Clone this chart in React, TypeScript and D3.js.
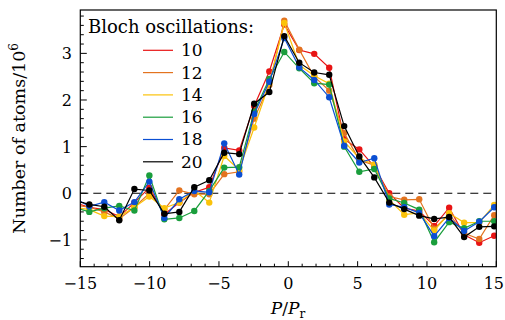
import React, { useEffect, useRef } from "react";
import * as d3 from "d3";

// momentum positions P/Pr (first one lies just outside the axis and gets clipped)
const positions = [
  -15.43, -14.35, -13.27, -12.19, -11.1, -10.02, -8.94, -7.86, -6.78, -5.7,
  -4.62, -3.54, -2.46, -1.37, -0.29, 0.79, 1.87, 2.95, 4.03, 5.12, 6.2, 7.28,
  8.36, 9.44, 10.52, 11.6, 12.68, 13.77, 14.85,
];

const bloch10 = [
  -0.2, -0.3, -0.35, -0.5, -0.2, 0.12, -0.45, -0.2, 0.02, 0.13, 0.97, 0.92,
  1.87, 2.61, 3.62, 3.07, 2.99, 2.69, 1.16, 0.94, 0.57, 0.0, -0.32, -0.38,
  -0.7, -0.31, -0.89, -1.06, -0.91,
];
const bloch12 = [
  -0.25, -0.3, -0.4, -0.55, -0.3, 0.0, -0.35, 0.06, -0.02, -0.02, 0.41, 0.46,
  1.6, 2.32, 3.7, 3.08, 2.5, 2.2, 1.29, 0.71, 0.6, -0.07, -0.14, -0.13, -0.76,
  -0.45, -0.86, -0.98, -0.47,
];
const bloch14 = [
  -0.3, -0.35, -0.49, -0.5, -0.3, -0.07, -0.32, -0.2, 0.06, -0.2, 0.8, 0.5,
  1.41, 2.36, 3.65, 2.75, 2.52, 2.35, 1.11, 0.75, 0.62, -0.14, -0.46, -0.42,
  -0.8, -0.43, -0.63, -0.63, -0.25,
];
const bloch16 = [
  -0.3, -0.4, -0.32, -0.27, -0.37, 0.38, -0.56, -0.53, -0.38, 0.05, 0.55,
  0.56, 1.75, 2.45, 3.03, 2.68, 2.36, 2.33, 1.0, 0.46, 0.52, -0.11, -0.21,
  -0.35, -1.05, -0.62, -0.75, -0.6, -0.6,
];
const bloch18 = [
  -0.1, -0.28, -0.19, -0.37, -0.19, 0.25, -0.53, -0.13, 0.05, 0.02, 1.07, 0.4,
  1.7, 2.39, 3.33, 2.7, 2.43, 2.06, 1.02, 0.66, 0.75, -0.24, -0.3, -0.42,
  -0.92, -0.53, -0.81, -0.61, -0.3,
];
const bloch20 = [
  -0.15, -0.24, -0.29, -0.58, 0.09, 0.06, -0.44, -0.4, 0.13, 0.28, 0.87, 0.84,
  1.92, 2.17, 3.37, 2.8, 2.59, 2.54, 1.44, 0.79, 0.34, -0.2, -0.34, -0.48,
  -0.55, -0.51, -0.94, -0.72, -0.71,
];

const seriesLabels = ["10", "12", "14", "16", "18", "20"];
const seriesValues = [bloch10, bloch12, bloch14, bloch16, bloch18, bloch20];
const seriesColors = ["#e81414", "#e3731f", "#fbc20a", "#1a9e3c", "#0b4fd3", "#000000"];

const xTicks = [-15, -10, -5, 0, 5, 10, 15];
const yTicks = [-1, 0, 1, 2, 3];

const FONT = "'DejaVu Serif', serif";

const App = () => {
  const ref = useRef<SVGSVGElement>(null);

  useEffect(() => {
    const svg = d3.select(ref.current);
    svg.selectAll("*").remove();

    const left = 80.3;
    const right = 496.3;
    const top = 10;
    const bottom = 266.7;

    const x = d3.scaleLinear().domain([-15, 15]).range([left, right]);
    const y = d3.scaleLinear().domain([-1.575, 3.93]).range([bottom, top]);

    svg
      .append("clipPath")
      .attr("id", "plot-clip")
      .append("rect")
      .attr("x", left)
      .attr("y", top)
      .attr("width", right - left)
      .attr("height", bottom - top);

    // zero line
    svg
      .append("line")
      .attr("x1", left)
      .attr("x2", right)
      .attr("y1", y(0))
      .attr("y2", y(0))
      .attr("stroke", "#000")
      .attr("stroke-width", 1.2)
      .attr("stroke-dasharray", "8,5");

    const plot = svg.append("g").attr("clip-path", "url(#plot-clip)");
    const line = d3
      .line<number>()
      .x((d, i) => x(positions[i]))
      .y((d) => y(d));

    seriesValues.forEach((vals, s) => {
      plot
        .append("path")
        .attr("d", line(vals))
        .attr("fill", "none")
        .attr("stroke", seriesColors[s])
        .attr("stroke-width", 1.2);
      plot
        .selectAll(null)
        .data(vals)
        .enter()
        .append("circle")
        .attr("cx", (d, i) => x(positions[i]))
        .attr("cy", (d) => y(d))
        .attr("r", 3.2)
        .attr("fill", seriesColors[s]);
    });

    // frame
    svg
      .append("rect")
      .attr("x", left)
      .attr("y", top)
      .attr("width", right - left)
      .attr("height", bottom - top)
      .attr("fill", "none")
      .attr("stroke", "#000")
      .attr("stroke-width", 1.2);

    // x ticks (inward)
    const xMinor = d3.range(-15, 16, 1);
    svg
      .selectAll("line.xminor")
      .data(xMinor)
      .enter()
      .append("line")
      .attr("x1", (d) => x(d))
      .attr("x2", (d) => x(d))
      .attr("y1", bottom)
      .attr("y2", (d) => (xTicks.includes(d) ? bottom - 5.5 : bottom - 3))
      .attr("stroke", "#000")
      .attr("stroke-width", 1);

    // last label would run past the edge, so it is right-aligned
    svg
      .selectAll("text.xlab")
      .data(xTicks)
      .enter()
      .append("text")
      .attr("x", (d, i) => (i === xTicks.length - 1 ? 504 : x(d)))
      .attr("y", 289)
      .attr("text-anchor", (d, i) => (i === xTicks.length - 1 ? "end" : "middle"))
      .style("font-family", FONT)
      .style("font-size", "16px")
      .text((d) => d3.format("d")(d));

    // y ticks
    const yMinor = d3.range(-14, 39, 2).map((d) => d / 10);
    svg
      .selectAll("line.yminor")
      .data(yMinor)
      .enter()
      .append("line")
      .attr("x1", left)
      .attr("x2", (d) => (Number.isInteger(d) ? left + 6.5 : left + 3.5))
      .attr("y1", (d) => y(d))
      .attr("y2", (d) => y(d))
      .attr("stroke", "#000")
      .attr("stroke-width", 1);

    svg
      .selectAll("text.ylab")
      .data(yTicks)
      .enter()
      .append("text")
      .attr("x", 72)
      .attr("y", (d) => y(d) + 6)
      .attr("text-anchor", "end")
      .style("font-family", FONT)
      .style("font-size", "16px")
      .text((d) => d3.format("d")(d));

    // axis titles
    const xt = svg
      .append("text")
      .attr("x", 288)
      .attr("y", 314)
      .attr("text-anchor", "middle")
      .style("font-family", FONT)
      .style("font-size", "17px");
    xt.append("tspan").style("font-style", "italic").text("P");
    xt.append("tspan").text("/");
    xt.append("tspan").style("font-style", "italic").text("P");
    xt.append("tspan").attr("dy", 4).style("font-size", "12px").text("r");

    const yt = svg
      .append("text")
      .attr("transform", "translate(25," + (top + bottom) / 2 + ") rotate(-90)")
      .attr("text-anchor", "middle")
      .style("font-family", FONT)
      .style("font-size", "17.5px");
    yt.append("tspan").text("Number of atoms/10");
    yt.append("tspan").attr("dy", -7).style("font-size", "12px").text("6");

    // legend
    svg
      .append("text")
      .attr("x", 88)
      .attr("y", 33)
      .style("font-family", FONT)
      .style("font-size", "18px")
      .text("Bloch oscillations:");

    const legend = svg.append("g").attr("transform", "translate(143,50.3)");
    legend
      .selectAll("line")
      .data(seriesLabels)
      .enter()
      .append("line")
      .attr("x1", 0)
      .attr("x2", 30)
      .attr("y1", (d, i) => i * 22.3)
      .attr("y2", (d, i) => i * 22.3)
      .attr("stroke", (d, i) => seriesColors[i])
      .attr("stroke-width", 1.2);
    legend
      .selectAll("text")
      .data(seriesLabels)
      .enter()
      .append("text")
      .attr("x", 38)
      .attr("y", (d, i) => i * 22.3 + 6)
      .style("font-family", FONT)
      .style("font-size", "17px")
      .text((d) => d);
  }, []);

  return (
    <div>
      <svg
        ref={ref}
        width={505}
        height={320}
        style={{ position: "absolute", left: 0, top: 0, background: "#fff" }}
      ></svg>
    </div>
  );
};

export default App;
